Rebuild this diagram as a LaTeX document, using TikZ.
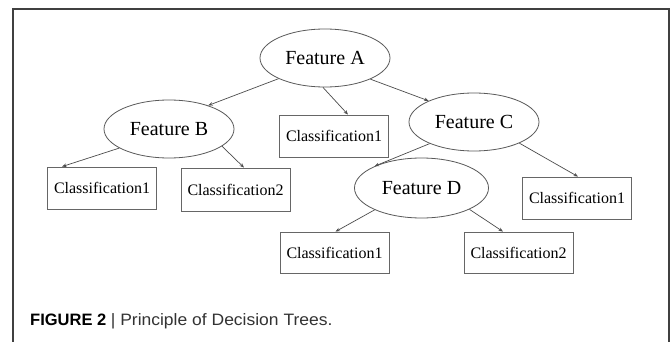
\documentclass[tikz,border=0pt]{standalone}
\usepackage{fontspec}
\setmainfont{Liberation Serif}
\newfontfamily\capfont{Liberation Sans}
\usetikzlibrary{shapes.geometric,arrows.meta}

\tikzset{
  feat/.style={ellipse, draw=black!65, line width=0.8pt, inner sep=0pt,
    minimum width=130pt, minimum height=58pt, font=\fontsize{20}{22}\selectfont},
  leaf/.style={rectangle, draw=black!60, line width=0.8pt, inner sep=0pt,
    minimum width=109pt, minimum height=42pt, font=\fontsize{16}{18}\selectfont},
  edge/.style={draw=black!70, line width=0.7pt, -{Stealth[length=4.5pt,width=3.5pt]}},
  frame/.style={draw=black!75, line width=1.5pt}
}

\begin{document}
\begin{tikzpicture}[x=1pt,y=-1pt]
  \useasboundingbox (0,0) rectangle (672,342);
  \path[fill=white] (0,0) rectangle (672,342);

  % open frame around the figure
  \draw[frame] (13,342) -- (13,9) -- (669,9) -- (669,342);

  % decision nodes
  \node[feat] (A) at (325,58)   {Feature A};
  \node[feat] (B) at (169,129)  {Feature B};
  \node[feat] (C) at (474,122)  {Feature C};
  \node[feat, minimum width=134pt, minimum height=60pt] (D) at (421.5,188) {Feature D};

  % leaves
  \node[leaf] (mid) at (334,136)   {Classification1};
  \node[leaf] (b1)  at (102,188)   {Classification1};
  \node[leaf, minimum height=43pt] (b2) at (235.5,189.5) {Classification2};
  \node[leaf] (c1)  at (577,198)   {Classification1};
  \node[leaf, minimum height=41pt] (d1) at (334.5,252.5) {Classification1};
  \node[leaf, minimum height=41pt] (d2) at (518.5,252.5) {Classification2};

  % branches
  \draw[edge] (A.204) -- (B.31);
  \draw[edge] (A.266) -- ([xshift=14pt]mid.north);
  \draw[edge] (A.335) -- (C.155);
  \draw[edge] (B.201) -- ([xshift=-40pt]b1.north);
  \draw[edge] (B.342) -- ([xshift=8.5pt]b2.north);
  \draw[edge] (C.206) -- (D.155);
  \draw[edge] (C.335) -- ([xshift=1pt]c1.north);
  \draw[edge] (D.205) -- ([xshift=1pt]d1.north);
  \draw[edge] (D.336) -- ([xshift=-15.5pt]d2.north);

  % caption
  \node[anchor=base west, inner sep=0pt, font=\capfont\fontsize{16.5}{18}\selectfont] (cap) at (30,325)
    {\textbf{FIGURE 2} {\color{black!80}\scalebox{1.06}[1]{| Principle of Decision Trees.}}};
\end{tikzpicture}
\end{document}
